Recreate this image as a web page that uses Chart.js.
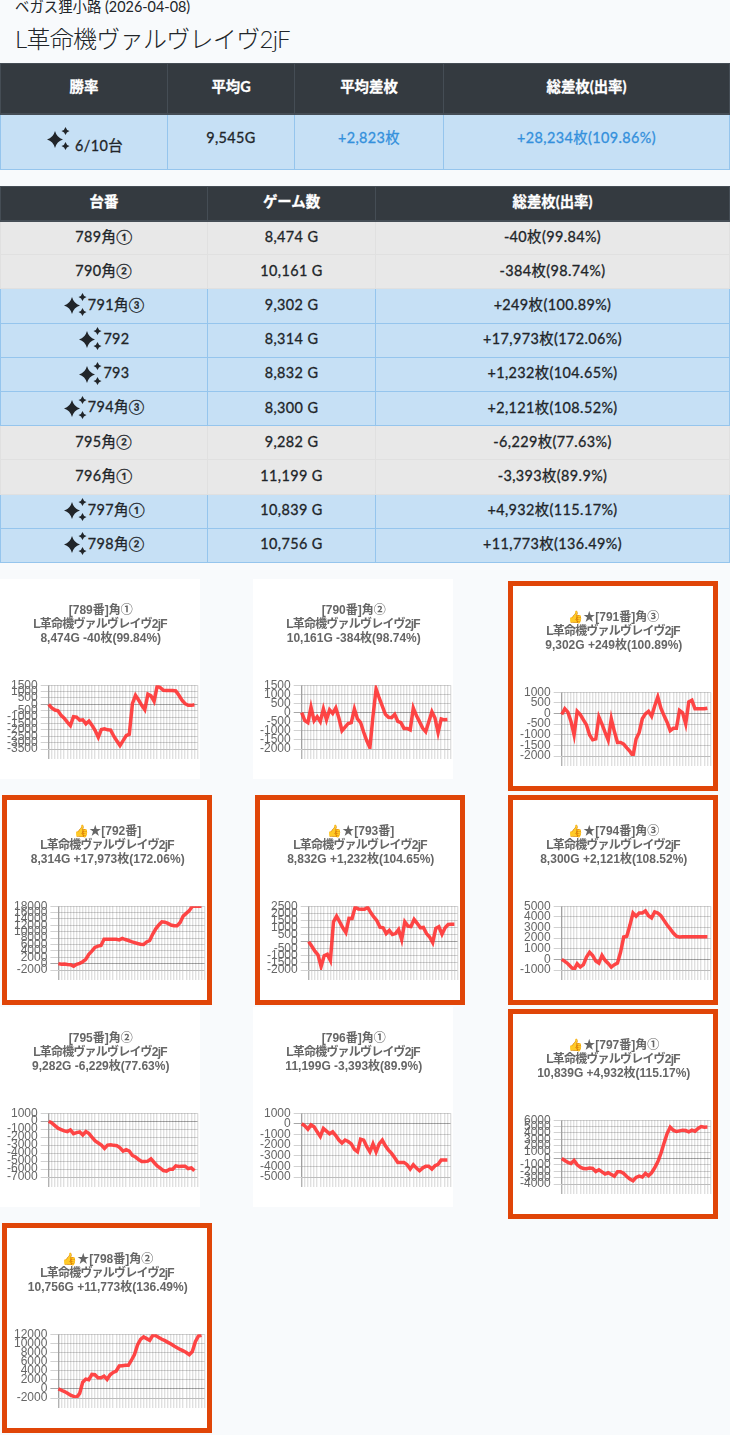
<!DOCTYPE html>
<html lang="ja">
<head>
<meta charset="utf-8">
<title>L革命機ヴァルヴレイヴ2jF</title>
<script src="https://cdn.jsdelivr.net/npm/chart.js@4/dist/chart.umd.min.js"></script>
<style>
  html, body { margin: 0; padding: 0; }
  body {
    position: relative; width: 730px; height: 1435px; overflow: hidden;
    background: #f8fafc; color: #212529;
    font-family: Lato, "Noto Sans CJK JP", sans-serif; font-size: 14.4px;
  }
  #shop { position: absolute; left: 15px; top: -3px; font-size: 14.4px; line-height: 20px; }
  #model { position: absolute; left: 15px; top: 21px; font-size: 24px; line-height: 36px; font-weight: 300; letter-spacing: -0.7px; }
  table { position: absolute; left: 0; width: 730px; border-collapse: collapse; table-layout: fixed; text-align: center; font-weight: 400; letter-spacing: 0.4px; -webkit-text-stroke: 0.3px currentColor; }
  th { background: #343a40; color: #fff; border: 1px solid #454d55; border-bottom-width: 2px; padding: 0 0 3px; box-sizing: border-box; line-height: 20px; letter-spacing: 0; }
  td { padding: 0 0 2px; border: 1px solid #95c5ed; box-sizing: border-box; line-height: 20px; }
  tr.win td { background: #c6e0f5; }
  tr.lose td { background: #e8e8e8; border-color: #e0e0e0; }
  #summary { top: 63px; }
  #summary th { height: 50px; }
  #summary td { height: 56px; vertical-align: top; padding-top: 13px; }
  #summary td.rate { padding-top: 21px; }
  #summary td.rate svg { vertical-align: 6px; margin: -18px 1px -6px 2px; }
  #machines { top: 186px; }
  #machines th { height: 34px; }
  #machines td { height: 34.2px; }
  .up { color: #3490dc; }
  svg.spark { width: 23px; height: 24px; vertical-align: middle; margin: -4px 1px -2px 1px; fill: #212529; stroke: none; }
  .box { position: absolute; width: 200px; height: 200px; background: #fff; }
  .box.hit { outline: 5px solid #e04508; }
  canvas { display: block; }
</style>
</head>
<body>
<svg width="0" height="0" style="position:absolute">
  <symbol id="spark_icon" viewBox="0 0 23 24">
    <path d="M8 4 Q9.8 10.7 16 12.5 Q9.8 14.3 8 21 Q6.2 14.3 0 12.5 Q6.2 10.7 8 4Z"/>
    <path d="M18.5 0 Q19.3 3.2 22.5 4 Q19.3 4.8 18.5 8 Q17.7 4.8 14.5 4 Q17.7 3.2 18.5 0Z"/>
    <path d="M18.5 15 Q19.3 18.2 22.5 19 Q19.3 19.8 18.5 23 Q17.7 19.8 14.5 19 Q17.7 18.2 18.5 15Z"/>
  </symbol>
</svg>

<div id="shop">ベガス狸小路 (2026-04-08)</div>
<div id="model">L革命機ヴァルヴレイヴ2jF</div>

<table id="summary">
  <colgroup><col style="width:167px"><col style="width:127px"><col style="width:149px"><col></colgroup>
  <tr><th>勝率</th><th>平均G</th><th>平均差枚</th><th>総差枚(出率)</th></tr>
  <tr class="win">
    <td class="rate"><svg class="spark"><use href="#spark_icon"/></svg> 6/10台</td>
    <td>9,545G</td>
    <td class="up">+2,823枚</td>
    <td class="up">+28,234枚(109.86%)</td>
  </tr>
</table>

<table id="machines">
  <colgroup><col style="width:207px"><col style="width:168px"><col></colgroup>
  <thead><tr><th>台番</th><th>ゲーム数</th><th>総差枚(出率)</th></tr></thead>
  <tbody id="machine_rows"></tbody>
</table>

<div class="box" style="left:0;top:579px"><canvas id="c789" width="200" height="200"></canvas></div>
<div class="box" style="left:253px;top:579px"><canvas id="c790" width="200" height="200"></canvas></div>
<div class="box hit" style="left:513px;top:586px"><canvas id="c791" width="200" height="200"></canvas></div>
<div class="box hit" style="left:7px;top:800px"><canvas id="c792" width="200" height="200"></canvas></div>
<div class="box hit" style="left:260px;top:800px"><canvas id="c793" width="200" height="200"></canvas></div>
<div class="box hit" style="left:513px;top:800px"><canvas id="c794" width="200" height="200"></canvas></div>
<div class="box" style="left:0;top:1007px"><canvas id="c795" width="200" height="200"></canvas></div>
<div class="box" style="left:253px;top:1007px"><canvas id="c796" width="200" height="200"></canvas></div>
<div class="box hit" style="left:513px;top:1014px"><canvas id="c797" width="200" height="200"></canvas></div>
<div class="box hit" style="left:7px;top:1228px"><canvas id="c798" width="200" height="200"></canvas></div>

<script>
// table columns
const machine_no = ["789", "790", "791", "792", "793", "794", "795", "796", "797", "798"];
const machine_pos = ["角①", "角②", "角③", "", "", "角③", "角②", "角①", "角①", "角②"];
const games = ["8,474", "10,161", "9,302", "8,314", "8,832", "8,300", "9,282", "11,199", "10,839", "10,756"];
const diff_rate = ["-40枚(99.84%)", "-384枚(98.74%)", "+249枚(100.89%)", "+17,973枚(172.06%)", "+1,232枚(104.65%)",
  "+2,121枚(108.52%)", "-6,229枚(77.63%)", "-3,393枚(89.9%)", "+4,932枚(115.17%)", "+11,773枚(136.49%)"];
const is_win = [false, false, true, true, true, true, false, false, true, true];

// y axis of each chart, same order as machine_no
const y_min = [-3500, -2000, -2000, -2000, -2000, -1000, -7000, -5000, -4000, -2000];
const y_max = [1500, 1500, 1000, 18000, 2500, 5000, 1000, 1000, 6000, 12000];
const y_step = [500, 500, 500, 2000, 500, 1000, 1000, 1000, 1000, 2000];

// x axis, one slot per vertical grid line
const x_labels = ["0","1","2","3","4","5","6","7","8","9","10","11","12","13","14","15","16","17","18","19","20","21","22","23","24",
  "25","26","27","28","29","30","31","32","33","34","35","36","37","38","39","40","41","42","43","44","45","46","47","48"];

const s789 = [0,-290,-450,-500,-870,-1080,-1390,-1660,-970,-1000,-1240,-1210,-1530,-1310,-1650,-2050,-2580,-1970,-1920,-2000,-2020,-2500,-2870,-3230,
  -2840,-2450,-2340,50,710,340,-80,-420,790,660,240,1450,1300,1100,1080,1080,1080,1050,710,320,50,-80,-80,-40];
const s790 = [0,-440,-550,300,-450,-230,-500,200,-400,150,-50,250,-300,-1000,-800,-600,-550,200,-350,-550,-1080,-1550,-1930,-200,
  1300,800,350,-100,-260,-280,-100,-480,-550,-870,-870,-950,250,-170,-500,-850,-1050,-500,50,-300,-1100,-350,-400,-384];
const s791 = [-50,220,60,-380,-1010,100,-50,-300,-540,-1010,-1240,-1200,-160,-500,-890,-1250,-250,-850,-1360,-1360,-1440,-1620,-1780,-2000,
  -1200,-890,-250,-20,100,-130,350,780,250,-100,-410,-810,-700,-700,140,30,-490,540,620,220,220,220,220,249];
const s792 = [0,-200,-100,-250,-350,-800,-200,100,600,1350,2900,3900,5100,5500,5700,7650,7650,7650,7650,7650,7450,7900,7550,7250,
  6900,6600,6300,6100,6000,6800,7250,9250,10900,12100,13100,13000,12600,12100,11900,11900,12900,14900,15750,16600,17950,17970,17973,17973];
const s793 = [0,-330,-670,-930,-1760,-1000,-900,-1330,1400,1800,1400,980,640,1650,1640,2450,2300,2280,2280,2430,2050,1740,1480,1020,
  980,570,790,500,570,860,140,1400,1100,1070,1570,1290,980,1000,570,330,-70,930,1050,520,980,1210,1230,1232];
const s794 = [0,-190,-410,-720,-970,-410,-720,-500,220,660,350,-160,-350,380,-90,-380,-720,-500,-350,690,2100,2170,3200,4360,
  4050,4360,4360,4550,4110,3900,4460,4360,4110,3670,3230,2860,2480,2170,2100,2121,2121,2121,2121,2121,2121,2121,2121,2121];
const s795 = [0,-210,-550,-880,-1050,-1220,-1300,-1100,-1560,-1430,-1350,-1730,-1300,-1560,-2020,-2480,-2740,-3000,-3410,-3000,-2950,-3030,-3070,-3330,
  -3750,-3580,-3750,-4300,-4500,-4800,-5050,-5050,-5010,-4720,-5180,-5600,-5890,-6190,-6270,-6020,-6020,-5600,-5680,-5640,-5640,-5940,-5850,-6229];
const s796 = [0,-190,-500,-100,-280,-750,-1190,-440,-690,-940,-750,-1100,-1530,-1810,-1530,-1660,-1880,-2400,-2630,-1440,-1530,-2150,-2630,-1880,
  -2630,-1880,-1530,-2060,-2470,-2780,-3190,-3630,-3630,-3630,-3840,-4250,-3840,-4160,-4410,-4160,-4000,-4000,-4250,-3940,-3810,-3400,-3400,-3393];
const s797 = [0,-310,-630,-800,-300,-990,-1360,-1570,-1620,-1510,-1570,-2040,-1770,-2090,-2450,-2240,-2500,-2770,-2090,-2090,-2350,-2820,-3240,-3500,
  -2970,-2770,-2920,-2350,-2710,-2240,-1460,-520,780,2400,3900,4900,4440,4230,4330,4440,4380,4180,4440,4280,4700,5010,4900,4932];
const s798 = [0,-300,-590,-960,-1400,-1630,-1850,-1000,1480,2150,2000,3180,3100,2440,2440,2800,2070,3100,3620,3920,5030,5100,5180,5180,
  6290,7550,9620,10880,11400,11030,10650,11770,11690,11250,10880,10580,10210,9840,9400,9030,8660,8360,7990,7500,8200,10360,11620,11773];
const series = [s789, s790, s791, s792, s793, s794, s795, s796, s797, s798];

// title first lines
const title_head = ["[789番]角①", "[790番]角②", "👍★[791番]角③", "👍★[792番]", "👍★[793番]",
  "👍★[794番]角③", "[795番]角②", "[796番]角①", "👍★[797番]角①", "👍★[798番]角②"];
const model_name = "L革命機ヴァルヴレイヴ2jF";
const title_foot = ["8,474G -40枚(99.84%)", "10,161G -384枚(98.74%)", "9,302G +249枚(100.89%)", "8,314G +17,973枚(172.06%)",
  "8,832G +1,232枚(104.65%)", "8,300G +2,121枚(108.52%)", "9,282G -6,229枚(77.63%)", "11,199G -3,393枚(89.9%)",
  "10,839G +4,932枚(115.17%)", "10,756G +11,773枚(136.49%)"];

// the table
const tbody = document.getElementById("machine_rows");
for (let i = 0; i < machine_no.length; i++) {
  let tr = document.createElement("tr");
  tr.className = is_win[i] ? "win" : "lose";
  let spark = is_win[i] ? '<svg class="spark"><use href="#spark_icon"/></svg>' : "";
  tr.innerHTML = "<td>" + spark + machine_no[i] + machine_pos[i] + "</td><td>" + games[i] + " G</td><td>" + diff_rate[i] + "</td>";
  tbody.appendChild(tr);
}

// the charts
Chart.defaults.font.family = 'Arial, "Liberation Sans", "Noto Sans CJK JP", sans-serif';
Chart.defaults.font.size = 12;
Chart.defaults.color = "#666";

// middle title line, kana sits tighter than the title plugin can do
const model_line = {
  id: "model_line",
  afterDraw(chart) {
    const ctx = chart.ctx;
    const box = chart.titleBlock;
    ctx.save();
    ctx.font = 'bold 12px Arial, "Liberation Sans", "Noto Sans CJK JP", sans-serif';
    ctx.fillStyle = "#666";
    ctx.letterSpacing = "-0.8px";
    ctx.textAlign = "center";
    ctx.textBaseline = "middle";
    ctx.fillText(model_name, chart.width / 2, box.top + 24 + 14.4 * 1.5);
    ctx.restore();
  }
};

function make_chart(i) {
  new Chart(document.getElementById("c" + machine_no[i]).getContext("2d"), {
    type: "line",
    plugins: [model_line],
    data: {
      labels: x_labels,
      datasets: [{
        data: series[i],
        borderColor: "rgba(255,50,50,0.9)",
        borderWidth: 3.5,
        pointRadius: 0,
        tension: 0,
        fill: false
      }]
    },
    options: {
      responsive: false,
      animation: false,
      layout: { padding: { left: 4, right: 2.5, top: 0, bottom: 20 } },
      plugins: {
        legend: { display: false },
        tooltip: { enabled: false },
        title: {
          display: true,
          text: [title_head[i], " ", title_foot[i]],
          padding: { top: 24, bottom: 39 }
        }
      },
      scales: {
        x: {
          ticks: { display: false, autoSkip: false },
          grid: {
            tickLength: 10,
            lineWidth: 1.4,
            color: ctx => ctx.index == 0 ? "rgba(0,0,0,0.3)" : "rgba(0,0,0,0.12)"
          }
        },
        y: {
          min: y_min[i],
          max: y_max[i],
          ticks: { stepSize: y_step[i], autoSkip: false, callback: v => String(v) },
          grid: {
            color: ctx => ctx.tick && ctx.tick.value == 0 ? "rgba(0,0,0,0.35)" : "rgba(0,0,0,0.18)"
          }
        }
      }
    }
  });
}

for (let i = 0; i < machine_no.length; i++) {
  make_chart(i);
}
</script>
</body>
</html>
